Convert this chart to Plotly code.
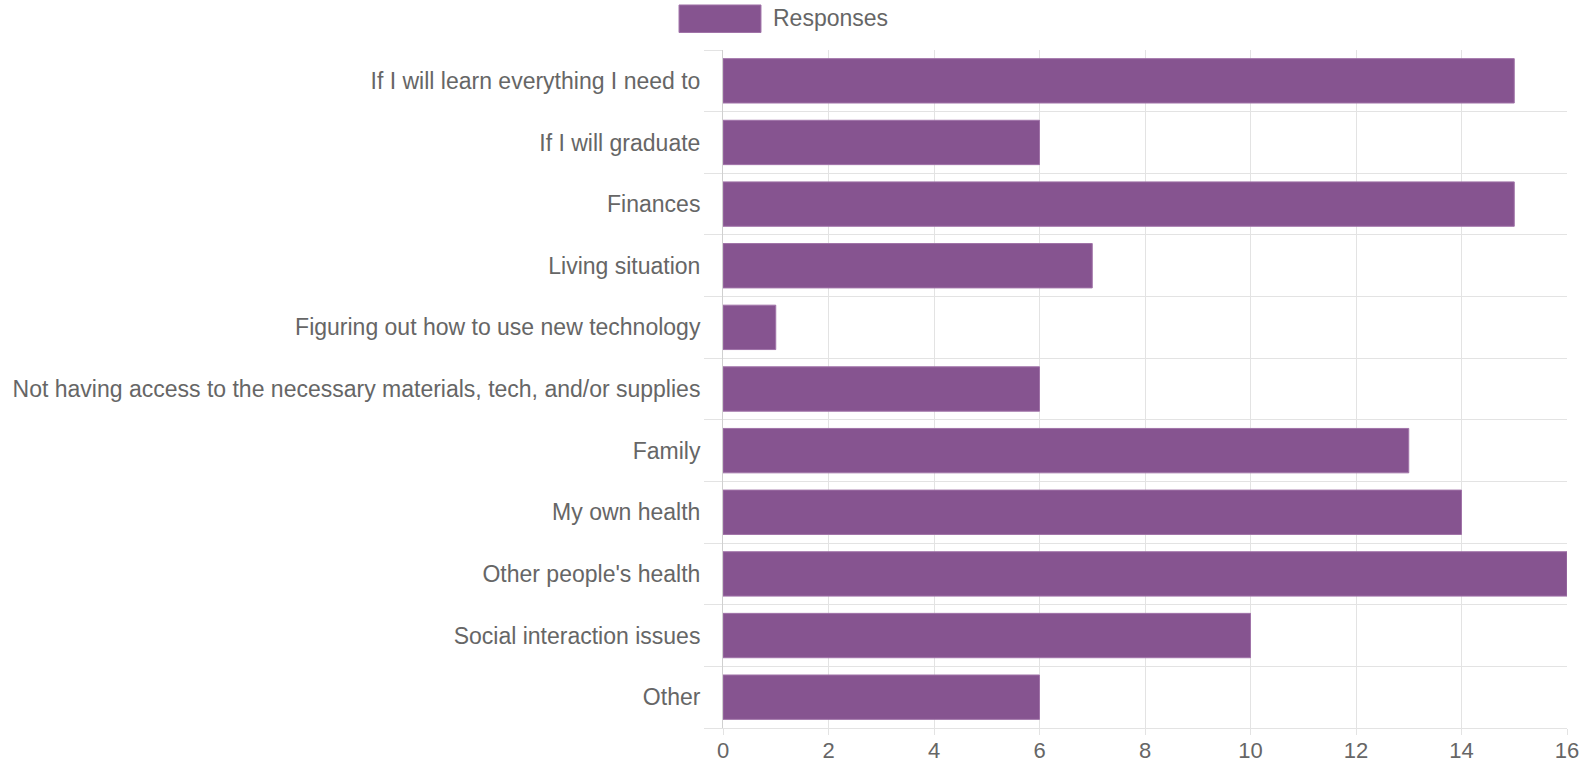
import plotly.graph_objects as go

categories = [
    "If I will learn everything I need to",
    "If I will graduate",
    "Finances",
    "Living situation",
    "Figuring out how to use new technology",
    "Not having access to the necessary materials, tech, and/or supplies",
    "Family",
    "My own health",
    "Other people's health",
    "Social interaction issues",
    "Other",
]
responses = [15, 6, 15, 7, 1, 6, 13, 14, 16, 10, 6]
series_name = "Responses"
x_ticks = [0, 2, 4, 6, 8, 10, 12, 14, 16]

BAR = "rgb(134,84,144)"
BAR_EDGE = "rgb(160,115,168)"
GRID = "#e3e3e3"
TEXT = "#666666"
FONT = "Liberation Sans, Arial, sans-serif"
FS = 23

n = len(categories)
ypos = list(range(n))

fig = go.Figure()
fig.add_trace(go.Bar(
    x=responses, y=ypos, orientation="h", name=series_name,
    marker=dict(color=BAR, line=dict(color=BAR_EDGE, width=1)),
    width=0.72, showlegend=False,
))

fig.update_layout(
    width=1591, height=767,
    margin=dict(l=723, r=24, t=50, b=39),
    paper_bgcolor="white", plot_bgcolor="white",
    font=dict(family=FONT, size=FS, color=TEXT),
    xaxis=dict(
        range=[0, 16], tickvals=x_ticks, ticktext=[str(v) for v in x_ticks],
        showgrid=True, gridcolor=GRID, gridwidth=1,
        zeroline=False, showline=True, linecolor=GRID, linewidth=1,
        ticks="outside", ticklen=6, tickcolor=GRID,
        ticklabelstandoff=-3,
        tickfont=dict(size=22, color=TEXT, family=FONT),
        automargin=False,
    ),
    yaxis=dict(
        range=[n - 0.5, -0.5], tickvals=ypos, ticktext=categories,
        showgrid=False, zeroline=False,
        showline=True, linecolor="#d0d0d0", linewidth=1,
        ticks="", ticklabelstandoff=17,
        tickfont=dict(size=FS, color=TEXT, family=FONT),
        minor=dict(tick0=0.5, dtick=1, showgrid=True, gridcolor=GRID,
                   ticks="outside", ticklen=18, tickcolor=GRID),
        automargin=False,
    ),
    shapes=[dict(
        type="rect", xref="paper", yref="paper",
        x0=-0.0521, x1=0.045, y0=1.0258, y1=1.0664,
        fillcolor=BAR, line=dict(color=BAR_EDGE, width=1),
    )],
    annotations=[dict(
        text=series_name, xref="paper", yref="paper",
        x=0.0569, y=1.0465, xanchor="left", yanchor="middle",
        showarrow=False, font=dict(size=FS, color=TEXT, family=FONT),
    )],
)

fig.write_html("out.html")
